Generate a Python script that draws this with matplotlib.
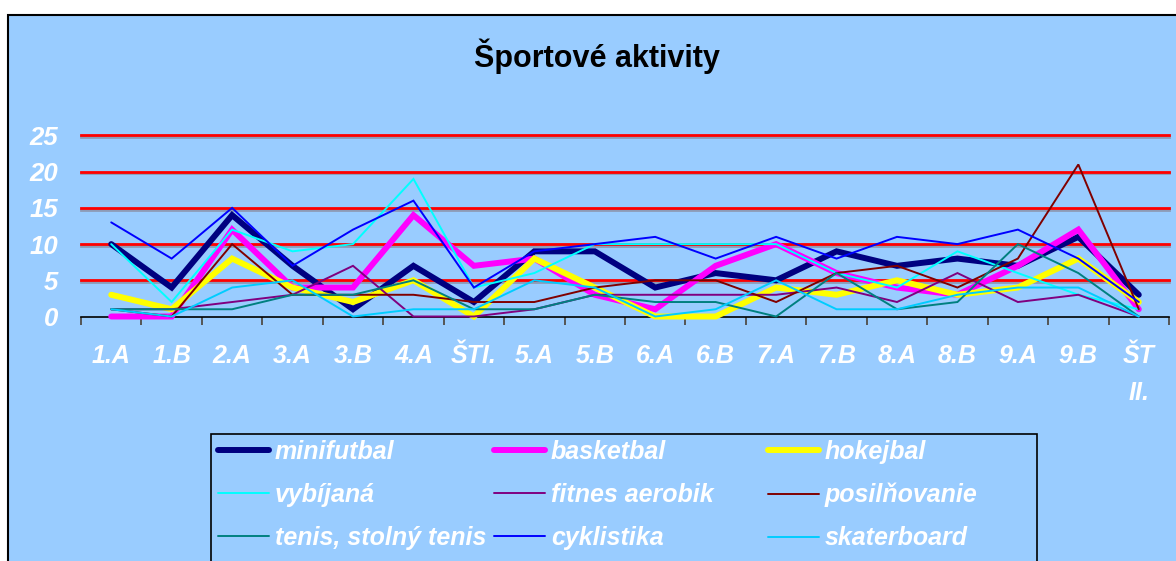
import matplotlib
matplotlib.use('Agg')
import matplotlib.pyplot as plt
from matplotlib import font_manager as fm
from matplotlib import patheffects as pe
from matplotlib.patches import Rectangle
import numpy as np

# ---------------- data ----------------
categories = ['1.A', '1.B', '2.A', '3.A', '3.B', '4.A', 'ŠTI.', '5.A', '5.B',
              '6.A', '6.B', '7.A', '7.B', '8.A', '8.B', '9.A', '9.B', 'ŠT\nII.']
minifutbal   = [10, 4, 14, 7, 1, 7, 2, 9, 9, 4, 6, 5, 9, 7, 8, 7, 11, 3]
basketbal    = [0, 0, 12, 4, 4, 14, 7, 8, 3, 1, 7, 10, 6, 4, 3, 7, 12, 1]
hokejbal     = [3, 1, 8, 4, 2, 5, 0, 8, 4, 0, 0, 4, 3, 5, 3, 4, 8, 2]
vybijana     = [10, 2, 12, 9, 10, 19, 4, 6, 10, 10, 10, 10, 6, 4, 9, 6, 3, 1]
fitnes       = [1, 1, 2, 3, 7, 0, 0, 1, 3, 3, 3, 3, 4, 2, 6, 2, 3, 0]
posilnovanie = [1, 0, 10, 3, 3, 3, 2, 2, 4, 5, 5, 2, 6, 7, 4, 8, 21, 1]
tenis        = [1, 1, 1, 3, 3, 5, 1, 1, 3, 2, 2, 0, 6, 1, 2, 10, 6, 0]
cyklistika   = [13, 8, 15, 7, 12, 16, 4, 9, 10, 11, 8, 11, 8, 11, 10, 12, 8, 2]
skaterboard  = [1, 0, 4, 5, 0, 1, 1, 5, 4, 0, 1, 5, 1, 1, 3, 4, 4, 0]

series_names = ['minifutbal', 'basketbal', 'hokejbal', 'vybíjaná', 'fitnes aerobik',
                'posilňovanie', 'tenis, stolný tenis', 'cyklistika', 'skaterboard']
series_values = [minifutbal, basketbal, hokejbal, vybijana, fitnes,
                 posilnovanie, tenis, cyklistika, skaterboard]
series_colors = ['#000080', '#FF00FF', '#FFFF00', '#00FFFF', '#800080',
                 '#800000', '#008080', '#0000FF', '#00CCFF']
series_widths = [4.3, 4.3, 4.3, 1.4, 1.4, 1.4, 1.4, 1.4, 1.4]

yticks = [0, 5, 10, 15, 20, 25]
title = 'Športové aktivity'

def lprop(size):
    return fm.FontProperties(family=['Liberation Sans', 'DejaVu Sans'], weight='bold',
                             style='italic', size=size)

W, H = 1176, 561
BG = '#99CCFF'
fig = plt.figure(figsize=(W / 100, H / 100), dpi=100, facecolor='white')

# chart area background with black frame (top/left visible)
fig.add_artist(Rectangle((7.5 / W, -0.1), 1.2, 1.1 - 15 / H, transform=fig.transFigure,
                         facecolor=BG, edgecolor='black', lw=1.5, zorder=0))

ax = fig.add_axes([81 / W, 1 - 316.5 / H, (1169 - 81) / W, (316.5 - 135.5) / H])
ax.patch.set_alpha(0)
ax.set_xlim(-0.5, len(categories) - 0.5)
ax.set_ylim(0, 25)

for s in ['top', 'right', 'left']:
    ax.spines[s].set_visible(False)
ax.spines['bottom'].set_color('black')
ax.spines['bottom'].set_linewidth(1.2)

for y in yticks[1:]:
    ax.axhline(y, color='red', lw=2.0, zorder=1, clip_on=False,
               path_effects=[pe.SimpleLineShadow(offset=(0, -1.2), shadow_color='#806060',
                                                 alpha=0.45), pe.Normal()])

x = np.arange(len(categories))
lines = []
for name, vals, col, lw in zip(series_names, series_values, series_colors, series_widths):
    ln, = ax.plot(x, vals, color=col, lw=lw, label=name, zorder=3, clip_on=False,
                  solid_joinstyle='miter', solid_capstyle='round')
    lines.append(ln)

ax.set_yticks(yticks, [str(v) for v in yticks], fontproperties=lprop(18.5), color='white')
ax.tick_params(axis='y', length=0, pad=16.5)

ax.set_xticks(x, categories, fontproperties=lprop(18), color='white', linespacing=1.7)
ax.set_xticks(np.arange(-0.5, len(categories)), minor=True)
ax.tick_params(axis='x', which='major', length=0, pad=19.8)
ax.tick_params(axis='x', which='minor', length=5.8, width=1.4, color='#555555', direction='out')

fig.text(597 / W, 1 - 56 / H, title, ha='center', va='center', fontsize=22,
         fontweight='bold', family='Liberation Sans', color='black')

# legend: box + three columns
fig.add_artist(Rectangle((211 / W, -0.1), (1037 - 211) / W, 0.1 + 1 - 433.5 / H,
                         transform=fig.transFigure, facecolor='none',
                         edgecolor='black', lw=1.2, zorder=1))
col_x = [218, 494, 768]
for c in range(3):
    hs = [lines[r * 3 + c] for r in range(3)]
    fig.legend(handles=hs, labels=[h.get_label() for h in hs],
               loc='center left', bbox_to_anchor=(col_x[c] / W, 1 - 495 / H),
               frameon=False, prop=lprop(18), labelcolor='white',
               handlelength=2.04, handletextpad=0.24, labelspacing=0.76,
               borderpad=0, borderaxespad=0)

fig.savefig('out.png', dpi=100, facecolor='white')
